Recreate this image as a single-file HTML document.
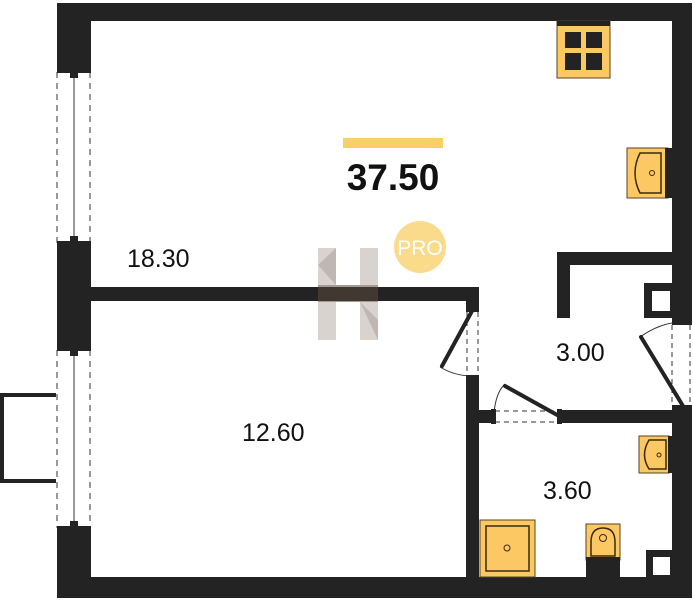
<!DOCTYPE html>
<html><head><meta charset="utf-8"><style>
html,body{margin:0;padding:0;background:#fff;}
svg{display:block;}
text{font-family:"Liberation Sans",sans-serif;}
</style></head><body>
<svg width="693" height="600" viewBox="0 0 693 600" xmlns="http://www.w3.org/2000/svg">
<g fill="#232323">
<!-- outer walls -->
<rect x="57" y="3" width="635" height="18"/>
<rect x="57" y="3" width="34" height="66"/>
<rect x="57" y="245" width="34" height="102"/>
<rect x="57" y="530" width="34" height="68"/>
<rect x="57" y="577" width="635" height="21"/>
<rect x="672" y="3" width="20" height="318"/>
<rect x="672" y="408" width="20" height="190"/>
<!-- inner walls -->
<rect x="91" y="287" width="388" height="14"/>
<rect x="466" y="287" width="13" height="22"/>
<rect x="466" y="378" width="13" height="200"/>
<rect x="466" y="410" width="27" height="13"/>
<rect x="560" y="410" width="112" height="13"/>
<rect x="557" y="252" width="115" height="13"/>
<rect x="557" y="252" width="13" height="66"/>
<rect x="644" y="283" width="28" height="35"/>
<rect x="646" y="550" width="26" height="28"/>
</g>
<rect x="652" y="291" width="18" height="20" fill="#fff"/>
<rect x="653" y="557" width="17" height="18" fill="#fff"/>
<!-- windows -->
<g stroke="#333" fill="none">
<rect x="57" y="69" width="34" height="176" fill="#fff" stroke="none"/>
<line x1="57" y1="72" x2="57" y2="243" stroke-dasharray="6,5"/>
<line x1="90" y1="72" x2="90" y2="243" stroke-dasharray="6,5"/>
<line x1="74" y1="72" x2="74" y2="243"/>
<rect x="57" y="347" width="34" height="183" fill="#fff" stroke="none"/>
<line x1="57" y1="350" x2="57" y2="528" stroke-dasharray="6,5"/>
<line x1="90" y1="350" x2="90" y2="528" stroke-dasharray="6,5"/>
<line x1="74" y1="350" x2="74" y2="528"/>
</g>
<g fill="#232323">
<rect x="57" y="69" width="34" height="4"/><rect x="57" y="241" width="34" height="4"/>
<rect x="70" y="73" width="8" height="5"/><rect x="70" y="236" width="8" height="5"/>
<rect x="57" y="347" width="34" height="4"/><rect x="57" y="526" width="34" height="4"/>
<rect x="70" y="351" width="8" height="5"/><rect x="70" y="521" width="8" height="5"/>
</g>
<!-- balcony -->
<path d="M56,395 H2 V481 H56" fill="none" stroke="#232323" stroke-width="4"/>
<!-- doors -->
<g stroke="#333" fill="none" stroke-width="1">
<line x1="467" y1="312" x2="467" y2="376" stroke-dasharray="5,4"/>
<line x1="478" y1="312" x2="478" y2="376" stroke-dasharray="5,4"/>
<path d="M440,367 Q455,376 472,376"/>
<line x1="495" y1="411" x2="558" y2="411" stroke-dasharray="5,4"/>
<line x1="495" y1="422" x2="558" y2="422" stroke-dasharray="5,4"/>
<path d="M494,413 Q496,392 505,384"/>
<line x1="672" y1="325" x2="672" y2="405" stroke-dasharray="5,4"/>
<line x1="690" y1="325" x2="690" y2="405" stroke-dasharray="5,4"/>
<path d="M640,337 Q660,323 680,322"/>
</g>
<g stroke="#232323" stroke-width="4" stroke-linecap="round">
<line x1="472" y1="311" x2="442" y2="366"/>
<line x1="505" y1="386" x2="559" y2="416"/>
<line x1="641" y1="337" x2="683" y2="406"/>
</g>
<g fill="#232323">
<rect x="466" y="308" width="13" height="4"/><rect x="466" y="375" width="13" height="4"/>
<rect x="491" y="409" width="5" height="15"/><rect x="557" y="409" width="5" height="15"/>
<rect x="672" y="321" width="20" height="4"/><rect x="672" y="405" width="20" height="4"/>
</g>
<!-- stove -->
<rect x="557" y="21" width="53" height="57" fill="#fbc863" stroke="#5a4320"/>
<rect x="557" y="21" width="53" height="5" fill="#232323"/>
<g fill="#232323"><rect x="565" y="32" width="16" height="16"/><rect x="586" y="32" width="16" height="16"/><rect x="565" y="53" width="16" height="17"/><rect x="586" y="53" width="16" height="17"/></g>
<!-- kitchen sink -->
<rect x="627" y="148" width="41" height="50" fill="#fbc863" stroke="#5a4320"/>
<rect x="665" y="148" width="7" height="50" fill="#232323"/>
<path d="M640,153 H661 V193 H640 Q630,173 640,153Z" fill="none" stroke="#3a2a10" stroke-width="1.5"/>
<circle cx="652" cy="173" r="2.5" fill="none" stroke="#3a2a10"/>
<!-- bath sink -->
<rect x="639" y="436" width="30" height="37" fill="#fbc863" stroke="#5a4320"/>
<rect x="668" y="436" width="4" height="37" fill="#232323"/>
<path d="M649,440 H666 V469 H649 Q640,455 649,440Z" fill="none" stroke="#3a2a10" stroke-width="1.5"/>
<circle cx="659" cy="455" r="2" fill="none" stroke="#3a2a10"/>
<!-- shower -->
<rect x="480" y="520" width="55" height="57" fill="#fbc863" stroke="#5a4320"/>
<rect x="486" y="526" width="43" height="45" fill="none" stroke="#3a2a10" stroke-width="1.5"/>
<circle cx="507" cy="548" r="3" fill="none" stroke="#3a2a10"/>
<!-- toilet -->
<rect x="586" y="524" width="34" height="36" fill="#fbc863" stroke="#5a4320"/>
<rect x="586" y="557" width="34" height="20" fill="#232323"/>
<path d="M591,556 V542 Q591,528 603,528 Q615,528 615,542 V556Z" fill="none" stroke="#3a2a10" stroke-width="1.5"/>
<circle cx="603" cy="538" r="3.5" fill="none" stroke="#3a2a10"/>
<!-- watermark -->
<g opacity="0.55">
<polygon points="318,248 336,248 336,340 318,340" fill="#b9b0a8"/>
<polygon points="360,248 378,248 378,340 360,340" fill="#b9b0a8"/>
<polygon points="318,285 378,285 378,302 318,302" fill="#5a4a3e"/>
<polygon points="318,265 336,248 336,285" fill="#8a7e74"/>
<polygon points="360,302 378,320 378,340" fill="#8a7e74"/>
</g>
<!-- title -->
<rect x="343" y="138" width="100" height="10" fill="#f9cf6a"/>
<text x="393" y="190" font-size="37" font-weight="bold" text-anchor="middle" fill="#111">37.50</text>
<circle cx="420" cy="247" r="26" fill="#fadb8c"/>
<text x="420" y="255" font-size="21" text-anchor="middle" fill="#fff">PRO</text>
<g font-size="25" fill="#111">
<text x="127" y="267">18.30</text>
<text x="242" y="441">12.60</text>
<text x="556" y="361">3.00</text>
<text x="543" y="499">3.60</text>
</g>
</svg>
</body></html>
